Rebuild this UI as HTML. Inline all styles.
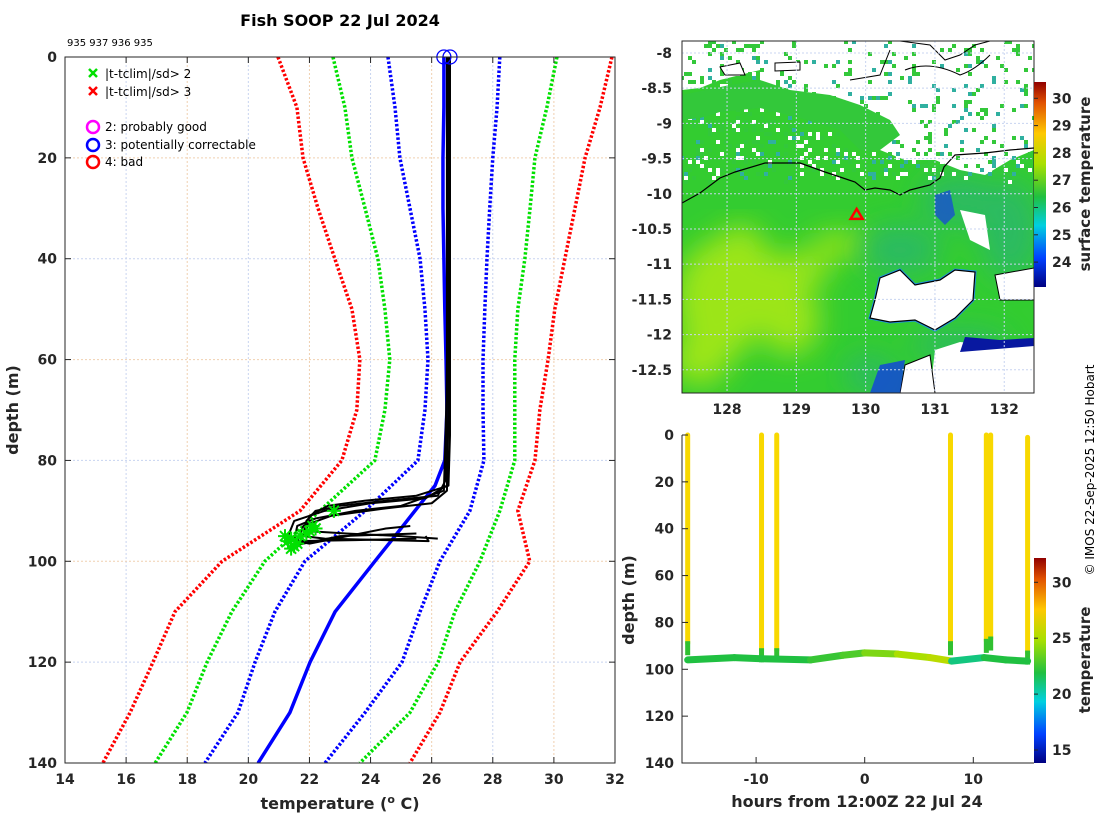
<!DOCTYPE html>
<html><head><meta charset="utf-8"><style>
html,body{margin:0;padding:0;background:#fff;}
svg{display:block;font-family:"DejaVu Sans","Liberation Sans",sans-serif;}
.tk{font-size:14px;font-weight:bold;fill:#262626;}
</style></head><body>
<svg id="root" width="1100" height="820" viewBox="0 0 1100 820">
<defs>
<linearGradient id="jet1" x1="0" y1="1" x2="0" y2="0">
<stop offset="0" stop-color="#000080"/><stop offset="0.14" stop-color="#0040ff"/><stop offset="0.3" stop-color="#00d0e0"/><stop offset="0.44" stop-color="#20c040"/><stop offset="0.6" stop-color="#a8e000"/><stop offset="0.75" stop-color="#ffc800"/><stop offset="0.9" stop-color="#e05000"/><stop offset="1" stop-color="#900000"/>
</linearGradient>
<clipPath id="mapclip"><rect x="682" y="41" width="352" height="352"/></clipPath>
<clipPath id="mainclip"><rect x="65" y="57" width="550" height="706"/></clipPath>
<filter id="blur"><feGaussianBlur stdDeviation="14"/></filter>
</defs>
<text x="340" y="26" text-anchor="middle" style="font-size:16px;font-weight:bold;fill:#000">Fish SOOP 22 Jul 2024</text>
<text x="67" y="46" style="font-size:10px;fill:#000">935 937 936 935</text>
<g id="main"></g>
<g id="map"></g>
<g id="sect"></g>
<text transform="translate(1094,470) rotate(-90)" text-anchor="middle" style="font-size:12px;fill:#000">© IMOS 22-Sep-2025 12:50 Hobart</text>
</svg>
<script>
const NS='http://www.w3.org/2000/svg';
function mk(p,t,a,txt){const e=document.createElementNS(NS,t);for(const k in a)e.setAttribute(k,a[k]);if(txt!==undefined)e.textContent=txt;p.appendChild(e);return e;}

// ---------- main profile plot data ----------
const climDepths=[0,10,20,30,40,50,60,70,80,90,100,110,120,130,140];
const redLeft=[20.97,21.59,21.79,22.28,22.83,23.39,23.65,23.55,23.06,21.69,19.14,17.6,16.88,16.13,15.24];
const greenLeft=[22.77,23.16,23.39,23.82,24.24,24.47,24.63,24.47,24.14,22.34,20.54,19.46,18.65,17.99,16.95];
const blueLeft=[24.57,24.80,24.96,25.29,25.62,25.78,25.88,25.78,25.55,23.82,21.85,20.87,20.22,19.66,18.58];
const blueRight=[28.23,28.14,28.0,27.90,27.81,27.74,27.68,27.68,27.71,27.25,26.27,25.62,25.03,23.82,22.51];
const greenRight=[30.10,29.77,29.38,29.22,29.05,28.82,28.72,28.72,28.72,28.23,27.58,26.76,26.21,25.29,23.65];
const redRight=[31.90,31.51,31.02,30.69,30.36,30.03,29.81,29.54,29.38,28.82,29.21,28.14,26.93,26.27,25.29];
const meanDepths=[0,10,20,30,40,50,60,70,80,85,90,95,100,110,120,130,140];
const meanTemps=[26.40,26.40,26.37,26.37,26.40,26.43,26.47,26.50,26.43,26.11,25.45,24.80,24.14,22.84,22.02,21.36,20.32];
const prof1T=[26.5,26.5,26.45,26.2,24.5,23,22.2,21.9,21.8,22.5,25.9,25.8];
const prof1D=[0,60,84,87,88,89,90,92,95,95.5,96,95];
const prof2T=[26.6,26.6,26.5,25.8,24,22.5,21.5,21.3,21.4,23,25.5];
const prof2D=[0,50,85,87.5,88.5,90,92,95,97,95,94.5];
const prof3T=[26.55,26.55,26.5,26,24.5,22.7,21.8,21.6,22,24.5,25.3];
const prof3D=[0,70,86,88.5,89.5,91,93,96,96.5,93.5,93];
const prof4T=[26.5,26.5,26.4,25,23.5,22.2,21.6,21.5,23.5,25.5];
const prof4D=[0,65,86,89,90,91.5,93,96,95.8,95.5];
const prof5T=[26.6,26.6,26.55,25.5,23.8,22.6,22.0,21.9,23.2,25.0,26.2];
const prof5D=[0,75,85,87,88,89,91,94,94.5,95,95.5];
const flagT=[21.3,21.5,21.4,21.6,21.2,22.0,22.2,21.9,22.1,22.8,21.4,21.7];
const flagD=[96,97,95.5,96.5,95,94,93.5,94.5,93,90,97.5,95];
const qcT=[26.4,26.6];
const qcD=[0,0];
const xTicks=[14,16,18,20,22,24,26,28,30,32];
const yTicks=[0,20,40,60,80,100,120,140];

const mx=t=>65+(t-14)/18*550, my=d=>57+d/140*706;
const M=document.getElementById('main');
for(let t=14;t<=32;t+=2){const g=mk(M,'line',{x1:mx(t),x2:mx(t),y1:57,y2:763,stroke:(t%4==0)?'#c8d4f0':'#f0d0b0','stroke-dasharray':'2,2'});
}
for(let d=0;d<=140;d+=20){const g=mk(M,'line',{x1:65,x2:615,y1:my(d),y2:my(d),stroke:(d%40==0)?'#c8d4f0':'#f0d0b0','stroke-dasharray':'2,2'});
}
const gC=mk(M,'g',{'clip-path':'url(#mainclip)'});
function line(T,D,col,w,dash,name){const p=mk(gC,'polyline',{points:T.map((t,i)=>mx(t)+','+my(D[i])).join(' '),fill:'none',stroke:col,'stroke-width':w,'stroke-linejoin':'round'});
if(dash)p.setAttribute('stroke-dasharray',dash);

}
line(redLeft,climDepths,'#ff0000',3.5,'2.5,2','clim-minus-3sd');
line(greenLeft,climDepths,'#00e000',3.5,'2.5,2','clim-minus-2sd');
line(blueLeft,climDepths,'#0000ff',3.5,'2.5,2','clim-minus-1sd');
line(blueRight,climDepths,'#0000ff',3.5,'2.5,2','clim-plus-1sd');
line(greenRight,climDepths,'#00e000',3.5,'2.5,2','clim-plus-2sd');
line(redRight,climDepths,'#ff0000',3.5,'2.5,2','clim-plus-3sd');
line(meanTemps,meanDepths,'#0000ff',3.5,null,'clim-mean');
line(prof1T,prof1D,'#000',2,null,'profile-935a');
line(prof2T,prof2D,'#000',2,null,'profile-937');
line(prof3T,prof3D,'#000',2,null,'profile-936');
line(prof4T,prof4D,'#000',2,null,'profile-935b');
line(prof5T,prof5D,'#000',2,null,'profile-extra');
flagT.forEach((t,i)=>{const x=mx(t),y=my(flagD[i]);const g=mk(gC,'path',{d:`M${x-5},${y-5}L${x+5},${y+5}M${x-5},${y+5}L${x+5},${y-5}M${x-7},${y}L${x+7},${y}M${x},${y-7}L${x},${y+7}`,stroke:'#00e000','stroke-width':2});
});
qcT.forEach((t,i)=>{const c=mk(M,'circle',{cx:mx(t),cy:my(qcD[i]),r:7,fill:'none',stroke:'#0000ff','stroke-width':1.3});
});
mk(M,'rect',{x:65,y:57,width:550,height:706,fill:'none',stroke:'#262626','stroke-width':1});
xTicks.forEach(t=>{mk(M,'line',{x1:mx(t),x2:mx(t),y1:763,y2:757,stroke:'#262626'});mk(M,'line',{x1:mx(t),x2:mx(t),y1:57,y2:63,stroke:'#262626'});
const tx=mk(M,'text',{x:mx(t),y:784,'text-anchor':'middle',class:'tk'},String(t));});
yTicks.forEach(d=>{mk(M,'line',{x1:65,x2:71,y1:my(d),y2:my(d),stroke:'#262626'});mk(M,'line',{x1:609,x2:615,y1:my(d),y2:my(d),stroke:'#262626'});
const tx=mk(M,'text',{x:57,y:my(d)+5,'text-anchor':'end',class:'tk'},String(d));});
let t1=mk(M,'text',{x:340,y:809,'text-anchor':'middle',style:'font-size:16px;font-weight:bold;fill:#262626'});t1.innerHTML='temperature (<tspan dy="-6" font-size="11">o</tspan><tspan dy="6"> C)</tspan>';

let t2=mk(M,'text',{transform:'translate(18,410) rotate(-90)','text-anchor':'middle',style:'font-size:16px;font-weight:bold;fill:#262626'},'depth (m)');

const L=mk(M,'g',{});
[['#00e000','|t-tclim|/sd> 2',74],['#ff0000','|t-tclim|/sd> 3',92]].forEach(r=>{const y=r[2];
mk(L,'path',{d:`M89,${y-5}L97,${y+3}M89,${y+3}L97,${y-5}`,stroke:r[0],'stroke-width':2.5});
const tx=mk(L,'text',{x:105,y:y+4,style:'font-size:12px;fill:#000'},r[1]);});
[['#ff00ff','2: probably good',127],['#0000ff','3: potentially correctable',145],['#ff0000','4: bad',162]].forEach(r=>{const y=r[2];
mk(L,'circle',{cx:93,cy:y,r:6,fill:'none',stroke:r[0],'stroke-width':2.5});
const tx=mk(L,'text',{x:105,y:y+4,style:'font-size:12px;fill:#000'},r[1]);});

// ---------- map ----------
const lonTicks=[128,129,130,131,132];
const latTicks=[-8,-8.5,-9,-9.5,-10,-10.5,-11,-11.5,-12,-12.5];
const shipLon=[129.87], shipLat=[-10.3];
const px=lo=>682+(lo-127.35)*69.3, py=la=>41+(-7.83-la)*70.4;
const Mp=document.getElementById('map');
const gm=mk(Mp,'g',{'clip-path':'url(#mapclip)'});
mk(gm,'rect',{x:682,y:41,width:352,height:352,fill:'#33cc30'});
const yl=mk(gm,'g',{filter:'url(#blur)',opacity:0.9});
[[720,300,45,60],[760,290,40,40],[790,320,30,35],[740,250,25,25],[800,270,30,18],[840,245,30,12],[700,360,30,25]].forEach(e=>mk(yl,'ellipse',{cx:e[0],cy:e[1],rx:e[2],ry:e[3],fill:'#a8e818'}));
const tl=mk(gm,'g',{filter:'url(#blur)',opacity:0.85});
[[900,250,40,25],[960,200,40,25],[1010,230,30,50],[960,345,50,15],[870,375,25,20]].forEach(e=>mk(tl,'ellipse',{cx:e[0],cy:e[1],rx:e[2],ry:e[3],fill:'#2ab86a'}));
// cloud region: white with green speckle
mk(gm,'polygon',{points:'760,41 1034,41 1034,150 1010,160 985,175 960,170 935,160 905,160 880,150 860,140 845,128 820,120 800,112 780,105 760,100',fill:'#fff'});
mk(gm,'polygon',{points:'682,41 760,41 760,70 720,80 700,88 682,90',fill:'#fff'});
let s=7;const rnd=()=>{s=(s*16807)%2147483647;return s/2147483647;};
for(let i=0;i<900;i++){const x=682+rnd()*352,y=41+rnd()*140;const c=rnd();
const gp=(x<800)?0.6:0.3;
mk(gm,'rect',{x:Math.floor(x/4)*4,y:Math.floor(y/4)*4,width:4,height:4,fill:c<gp?'#33c83a':(c<0.85?'#fff':'#30b0a0')});}
mk(gm,'polygon',{points:'682,95 730,85 760,80 790,90 830,95 860,105 890,120 900,135 880,150 860,150 840,130 800,118 760,108 720,112 700,118 682,120',fill:'#33c83a'});
mk(gm,'polygon',{points:'880,278 900,270 915,285 940,280 955,270 975,272 973,300 955,318 935,330 915,320 890,322 870,318 875,300',fill:'#fff',stroke:'#2090e0','stroke-width':3});
mk(gm,'polygon',{points:'880,278 900,270 915,285 940,280 955,270 975,272 973,300 955,318 935,330 915,320 890,322 870,318 875,300',fill:'#fff',stroke:'#000','stroke-width':1.2});
mk(gm,'polygon',{points:'935,350 960,342 990,345 1034,342 1034,393 930,393',fill:'#fff'});
mk(gm,'polygon',{points:'965,337 1000,340 1034,338 1034,346 960,352',fill:'#0818a0'});
mk(gm,'polygon',{points:'905,365 930,355 935,393 900,393',fill:'#fff',stroke:'#000','stroke-width':1});
mk(gm,'polygon',{points:'880,365 905,360 900,393 870,393',fill:'#1040e0',opacity:0.8});
mk(gm,'polygon',{points:'995,275 1034,268 1034,300 1000,300',fill:'#fff',stroke:'#000','stroke-width':1});
mk(gm,'polygon',{points:'935,195 950,190 955,215 945,225 935,215',fill:'#1850d0',opacity:0.8});
mk(gm,'polygon',{points:'960,210 985,215 990,250 970,240',fill:'#fff'});
mk(gm,'polyline',{points:'682,203 700,193 720,178 735,172 765,163 800,163 825,172 840,177 855,182 865,190 875,188 890,190 900,195 910,190 930,185 940,178 944,167 955,155 985,153 1010,150 1034,148',fill:'none',stroke:'#000','stroke-width':1.2});
mk(gm,'path',{d:'M900,41 L930,45 L945,60 L960,55 L975,45 L990,41 M905,70 Q930,60 960,75 Q975,70 990,55 M850,80 L880,75 L890,50',fill:'none',stroke:'#000','stroke-width':1});
mk(gm,'polygon',{points:'775,63 800,62 800,70 775,71',fill:'#fff',stroke:'#000','stroke-width':1});
mk(gm,'polygon',{points:'720,67 740,63 745,75 725,75',fill:'#fff',stroke:'#000','stroke-width':1});
lonTicks.forEach(v=>mk(gm,'line',{x1:px(v),x2:px(v),y1:41,y2:393,stroke:'#c8d4f0','stroke-dasharray':'2,2'}));
latTicks.forEach(v=>mk(gm,'line',{x1:682,x2:1034,y1:py(v),y2:py(v),stroke:'#c8d4f0','stroke-dasharray':'2,2'}));
shipLon.forEach((lo,i)=>{const x=px(lo),y=py(shipLat[i]);const p=mk(gm,'polygon',{points:`${x},${y-6} ${x+6},${y+4} ${x-6},${y+4}`,fill:'none',stroke:'#ff0000','stroke-width':2.5});
});
mk(Mp,'rect',{x:682,y:41,width:352,height:352,fill:'none',stroke:'#262626'});
lonTicks.forEach(v=>{const t=mk(Mp,'text',{x:px(v),y:414,'text-anchor':'middle',class:'tk'},String(v));});
latTicks.forEach(v=>{const t=mk(Mp,'text',{x:672,y:py(v)+5,'text-anchor':'end',class:'tk'},String(v));});
const cb1Ticks=[24,25,26,27,28,29,30];
const cy1=v=>98.3+(30-v)*27.3;
const cb1=mk(Mp,'rect',{x:1034,y:82,width:12,height:205,fill:'url(#jet1)'});
cb1Ticks.forEach(v=>{mk(Mp,'line',{x1:1034,x2:1038,y1:cy1(v),y2:cy1(v),stroke:'#262626'});const t=mk(Mp,'text',{x:1052,y:cy1(v)+5,style:'font-size:14px;font-weight:bold;fill:#262626'},String(v));});
let t3=mk(Mp,'text',{transform:'translate(1090,184) rotate(-90)','text-anchor':'middle',style:'font-size:15px;font-weight:bold;fill:#262626'},'surface temperature');

// ---------- section plot ----------
const castHours=[-16.3,-9.5,-8.1,7.9,11.2,11.6,15.0];
const castTop=[0,0,0,0,0,0,1];
const castBottom=[89,92,92,89,88,87,93];
const bottomHours=[-16.3,-12,-9.5,-5,-2,0,3,6,8,11,13,15];
const bottomDepths=[96,95,95.5,96,94,93,93.5,95,96.5,95,96,96.5];
const bottomTemps=[22,22,22,22.5,23,24,25,25.5,21,22,22,22];
const sxTicks=[-10,0,10];
const syTicks=[0,20,40,60,80,100,120,140];
const sx=h=>864.7+h*10.86, sy=d=>435+d/140*328;
const S=document.getElementById('sect');
function jet(v){const f=Math.max(0,Math.min(1,(v-14)/18.2));const st=[[0,[0,0,128]],[.14,[0,64,255]],[.3,[0,208,224]],[.44,[32,192,64]],[.6,[168,224,0]],[.75,[255,200,0]],[.9,[224,80,0]],[1,[144,0,0]]];
for(let i=1;i<st.length;i++)if(f<=st[i][0]){const a=st[i-1],b=st[i],k=(f-a[0])/(b[0]-a[0]);return 'rgb('+a[1].map((c,j)=>Math.round(c+(b[1][j]-c)*k)).join(',')+')';}return 'rgb(144,0,0)';}
castHours.forEach((h,i)=>{const l=mk(S,'line',{x1:sx(h),x2:sx(h),y1:sy(castTop[i]),y2:sy(castBottom[i]),stroke:'#f8d800','stroke-width':5,'stroke-linecap':'round'});

mk(S,'line',{x1:sx(h),x2:sx(h),y1:sy(castBottom[i]-1),y2:sy(castBottom[i]+5),stroke:'#30c030','stroke-width':5});});
for(let i=0;i<bottomHours.length-1;i++){const l=mk(S,'line',{x1:sx(bottomHours[i]),x2:sx(bottomHours[i+1]),y1:sy(bottomDepths[i]),y2:sy(bottomDepths[i+1]),stroke:jet(bottomTemps[i]),'stroke-width':7,'stroke-linecap':'round'});
}
mk(S,'path',{d:'M682,435 L682,763 L1034,763',fill:'none',stroke:'#262626'});
sxTicks.forEach(v=>{mk(S,'line',{x1:sx(v),x2:sx(v),y1:763,y2:757,stroke:'#262626'});const t=mk(S,'text',{x:sx(v),y:784,'text-anchor':'middle',class:'tk'},String(v));});
syTicks.forEach(v=>{mk(S,'line',{x1:682,x2:688,y1:sy(v),y2:sy(v),stroke:'#262626'});const t=mk(S,'text',{x:674,y:sy(v)+5,'text-anchor':'end',class:'tk'},String(v));});
let t4=mk(S,'text',{x:857,y:807,'text-anchor':'middle',style:'font-size:16px;font-weight:bold;fill:#262626'},'hours from 12:00Z 22 Jul 24');
let t5=mk(S,'text',{transform:'translate(634,600) rotate(-90)','text-anchor':'middle',style:'font-size:16px;font-weight:bold;fill:#262626'},'depth (m)');
const cb2Ticks=[15,20,25,30];
const cy2=v=>582.3+(30-v)*11.18;
const cb2=mk(S,'rect',{x:1034,y:558,width:12,height:205,fill:'url(#jet1)'});
cb2Ticks.forEach(v=>{mk(S,'line',{x1:1034,x2:1038,y1:cy2(v),y2:cy2(v),stroke:'#262626'});const t=mk(S,'text',{x:1052,y:cy2(v)+5,style:'font-size:14px;font-weight:bold;fill:#262626'},String(v));});
let t6=mk(S,'text',{transform:'translate(1090,660) rotate(-90)','text-anchor':'middle',style:'font-size:15px;font-weight:bold;fill:#262626'},'temperature');
</script>
</body></html>
